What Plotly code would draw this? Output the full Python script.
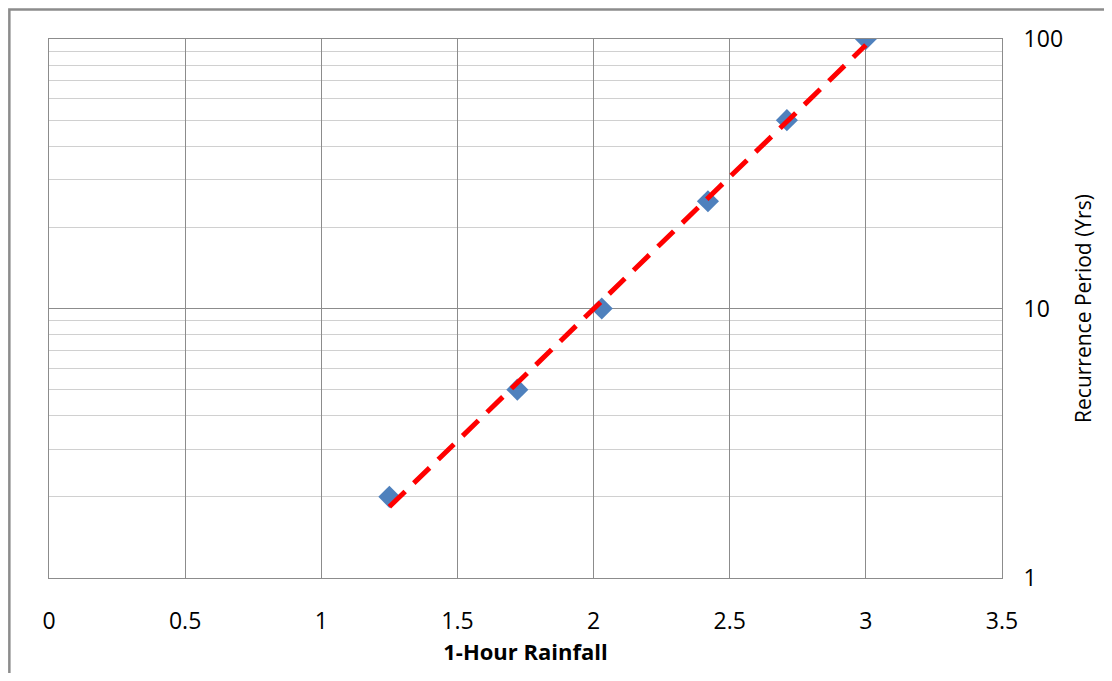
import numpy as np
import plotly.graph_objects as go

rainfall = [1.25, 1.72, 2.03, 2.42, 2.71, 3.0]
recurrence = [2, 5, 10, 25, 50, 100]
x_ticks = [0, 0.5, 1, 1.5, 2, 2.5, 3, 3.5]
x_ticklabels = ["0", "0.5", "1", "1.5", "2", "2.5", "3", "3.5"]
y_ticks = [1, 10, 100]
y_ticklabels = ["1", "10", "100"]
y_minor = [2, 3, 4, 5, 6, 7, 8, 9, 20, 30, 40, 50, 60, 70, 80, 90]

# exponential trendline (least squares in log space), as a spreadsheet would draw it
b, a = np.polyfit(rainfall, np.log10(recurrence), 1)
tx = [min(rainfall), max(rainfall)]
ty = [10 ** (a + b * v) for v in tx]

FONT = "Open Sans"

fig = go.Figure()
fig.add_trace(go.Scatter(
    x=rainfall, y=recurrence, mode="markers",
    marker=dict(symbol="diamond", size=17, color="#4F81BD", line=dict(width=0)),
    showlegend=False,
))
fig.add_trace(go.Scatter(
    x=tx, y=ty, mode="lines",
    line=dict(color="#FF0000", width=5, dash="22px,12px"),
    hoverinfo="skip", showlegend=False,
))

fig.update_layout(
    width=1096, height=665,
    margin=dict(l=41, r=94, t=31, b=86),
    paper_bgcolor="white", plot_bgcolor="white",
    font=dict(family=FONT, color="#000000"),
    showlegend=False,
    xaxis=dict(
        range=[0, 3.5], tickvals=x_ticks, ticktext=x_ticklabels,
        showgrid=True, gridcolor="#8C8C8C", gridwidth=1,
        zeroline=False, showline=True, linecolor="#8C8C8C", linewidth=1, mirror=True,
        ticks="outside", ticklen=22, tickcolor="rgba(0,0,0,0)",
        tickfont=dict(size=23, family=FONT, color="#000000"),
        title=dict(text="<b>1-Hour Rainfall</b>", font=dict(size=22, family=FONT, color="#000000"), standoff=10),
    ),
    yaxis=dict(
        type="log", range=[0, 2], side="right",
        tickvals=y_ticks, ticktext=y_ticklabels,
        showgrid=True, gridcolor="#8C8C8C", gridwidth=1,
        minor=dict(tickmode="array", tickvals=y_minor, showgrid=True, gridcolor="#D0D0D0", gridwidth=1, ticklen=0),
        zeroline=False, showline=True, linecolor="#8C8C8C", linewidth=1, mirror=True,
        ticks="outside", ticklen=16, tickcolor="rgba(0,0,0,0)",
        tickfont=dict(size=23, family=FONT, color="#000000"),
        title=dict(text="Recurrence Period (Yrs)", font=dict(size=21, family=FONT, color="#000000"), standoff=14),
    ),
    shapes=[
        dict(type="rect", xref="paper", yref="paper",
             x0=-0.0416, x1=1.2, y0=-0.3, y1=1.0547,
             line=dict(color="#8C8C8C", width=2.5), fillcolor="rgba(0,0,0,0)", layer="below"),
    ],
)

fig.write_html("out.html", config={"displayModeBar": False})
